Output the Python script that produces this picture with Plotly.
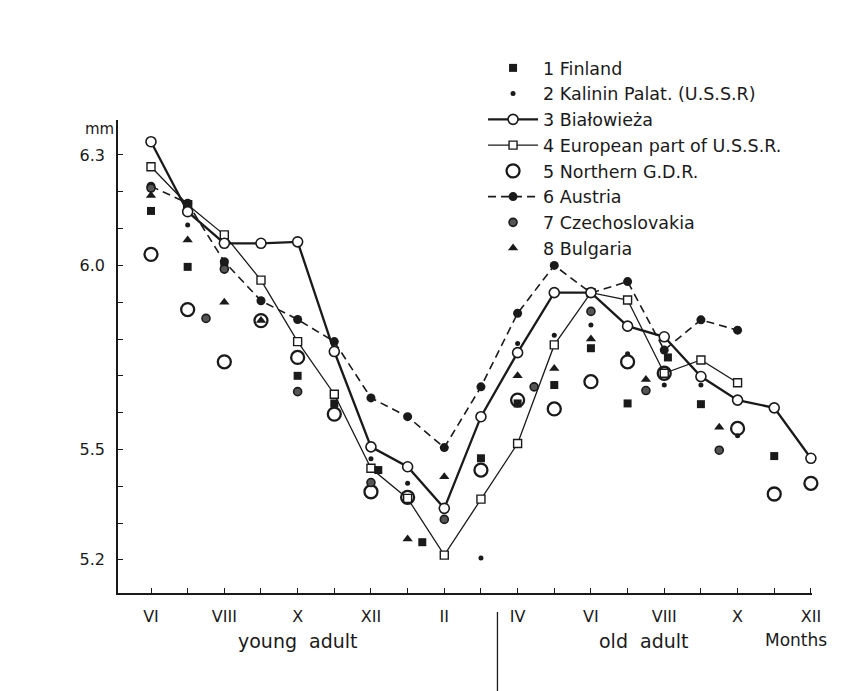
import plotly.graph_objects as go

# month positions: 0 = VI (young adult) ... 18 = XII (old adult)
tick_pos = list(range(19))
tick_text = ["VI", "", "VIII", "", "X", "", "XII", "", "II", "", "IV", "", "VI", "", "VIII", "", "X", "", "XII"]
y_ticks = [5.2, 5.3, 5.4, 5.5, 5.6, 5.7, 5.8, 5.9, 6.0, 6.1, 6.2, 6.3]
y_tick_text = ["5.2", "", "", "5.5", "", "", "", "", "6.0", "", "", "6.3"]

finland_x = [0, 1, 2, 4, 5, 6.2, 7.4, 9, 10, 11, 12, 13, 14.1, 15, 17]
finland_y = [6.148, 5.996, 6.005, 5.70, 5.625, 5.444, 5.248, 5.476, 5.625, 5.675, 5.775, 5.625, 5.75, 5.623, 5.482]

kalinin_x = [1, 6, 7, 9, 10, 11, 12, 13, 14, 15, 16]
kalinin_y = [6.11, 5.475, 5.408, 5.205, 5.788, 5.81, 5.838, 5.76, 5.675, 5.675, 5.537]

bialowieza_x = list(range(19))
bialowieza_y = [6.336, 6.146, 6.06, 6.06, 6.064, 5.766, 5.507, 5.453, 5.34, 5.589, 5.763,
                5.926, 5.926, 5.835, 5.806, 5.698, 5.634, 5.613, 5.476]

european_x = list(range(17))
european_y = [6.268, 6.165, 6.083, 5.96, 5.793, 5.65, 5.449, 5.367, 5.213, 5.365, 5.516,
              5.784, 5.926, 5.906, 5.707, 5.743, 5.681]

ngdr_x = [0, 1, 2, 3, 4, 5, 6, 7, 9, 10, 11, 12, 13, 14, 16, 17, 18]
ngdr_y = [6.03, 5.88, 5.738, 5.85, 5.75, 5.596, 5.385, 5.37, 5.444, 5.634, 5.61, 5.684,
          5.738, 5.707, 5.557, 5.379, 5.408]

austria_x = list(range(17))
austria_y = [6.215, 6.169, 6.01, 5.904, 5.853, 5.793, 5.64, 5.589, 5.505, 5.67, 5.87,
             6.0, 5.925, 5.956, 5.77, 5.852, 5.824]

czech_x = [0, 1.5, 2, 4, 6, 8, 10.45, 12, 13.5, 15.5]
czech_y = [6.21, 5.856, 5.99, 5.657, 5.41, 5.31, 5.67, 5.875, 5.66, 5.498]

bulgaria_x = [0, 1, 2, 3, 7, 8, 10, 11, 12, 13.5, 15.5]
bulgaria_y = [6.19, 6.069, 5.90, 5.85, 5.257, 5.426, 5.70, 5.72, 5.80, 5.69, 5.56]

names = ["1 Finland", "2 Kalinin Palat. (U.S.S.R)", "3 Białowieża", "4 European part of U.S.S.R.",
         "5 Northern G.D.R.", "6 Austria", "7 Czechoslovakia", "8 Bulgaria"]

INK = "#1a1a1a"
FONT = "DejaVu Sans"

fig = go.Figure()

fig.add_trace(go.Scatter(x=european_x, y=european_y, mode="lines+markers", name=names[3],
                         line=dict(color=INK, width=1.3),
                         marker=dict(symbol="square", size=8, color="white", line=dict(color=INK, width=1.4)),
                         legendrank=4, legendgroup="g4"))
fig.add_trace(go.Scatter(x=austria_x, y=austria_y, mode="lines+markers", name=names[5],
                         line=dict(color=INK, width=1.6, dash="8px,5px"),
                         marker=dict(symbol="circle", size=9, color=INK),
                         legendrank=6, legendgroup="g6"))
fig.add_trace(go.Scatter(x=bialowieza_x, y=bialowieza_y, mode="lines+markers", name=names[2],
                         line=dict(color=INK, width=2.3),
                         marker=dict(symbol="circle", size=10, color="white", line=dict(color=INK, width=1.6)),
                         legendrank=3, legendgroup="g3"))
fig.add_trace(go.Scatter(x=ngdr_x, y=ngdr_y, mode="markers", name=names[4],
                         marker=dict(symbol="circle-open", size=13, color=INK, line=dict(width=2.3)),
                         legendrank=5, legendgroup="g5"))
fig.add_trace(go.Scatter(x=finland_x, y=finland_y, mode="markers", name=names[0],
                         marker=dict(symbol="square", size=8, color=INK),
                         legendrank=1, legendgroup="g1"))
fig.add_trace(go.Scatter(x=kalinin_x, y=kalinin_y, mode="markers", name=names[1],
                         marker=dict(symbol="circle", size=5, color=INK),
                         legendrank=2, legendgroup="g2"))
fig.add_trace(go.Scatter(x=czech_x, y=czech_y, mode="markers", name=names[6],
                         marker=dict(symbol="circle", size=8, color="#555555", line=dict(color=INK, width=1.6)),
                         legendrank=7, legendgroup="g7"))
fig.add_trace(go.Scatter(x=bulgaria_x, y=bulgaria_y, mode="markers", name=names[7],
                         marker=dict(symbol="triangle-up", size=9, color=INK),
                         legendrank=8, legendgroup="g8"))

for tr in fig.data:
    tr.cliponaxis = False

fig.update_layout(
    width=860, height=691,
    margin=dict(l=118, r=48, t=120, b=98),
    paper_bgcolor="white", plot_bgcolor="white",
    font=dict(family=FONT, size=15, color=INK),
    showlegend=True,
    legend=dict(x=0.526, y=1.148, xanchor="left", yanchor="top", bgcolor="rgba(0,0,0,0)",
                font=dict(family=FONT, size=17.5, color=INK), itemwidth=50, tracegroupgap=0,
                traceorder="grouped"),
    xaxis=dict(range=[-0.9, 18.03], showgrid=False, zeroline=False, showline=True,
               linecolor=INK, linewidth=1.6, ticks="inside", ticklen=5, tickwidth=1.2,
               tickcolor=INK, tickvals=tick_pos, ticktext=tick_text, ticklabelstandoff=8,
               tickfont=dict(family=FONT, size=16, color=INK)),
    yaxis=dict(range=[5.11, 6.395], showgrid=False, zeroline=False, showline=True,
               linecolor=INK, linewidth=1.6, ticks="inside", ticklen=5, tickwidth=1.2,
               tickcolor=INK, tickvals=y_ticks, ticktext=y_tick_text, ticklabelstandoff=8,
               tickfont=dict(family=FONT, size=16, color=INK)),
)

fig.add_annotation(xref="paper", yref="paper", x=-0.026, y=1.0, xanchor="center", yanchor="middle",
                   yshift=-9, text="mm", showarrow=False, font=dict(family=FONT, size=15, color=INK))
fig.add_annotation(xref="x", yref="paper", x=4.0, y=-0.075, xanchor="center", yanchor="top",
                   text="young\u00a0\u00a0adult", showarrow=False, font=dict(family=FONT, size=19, color=INK))
fig.add_annotation(xref="x", yref="paper", x=13.45, y=-0.075, xanchor="center", yanchor="top",
                   text="old\u00a0\u00a0adult", showarrow=False, font=dict(family=FONT, size=19, color=INK))
fig.add_annotation(xref="x", yref="paper", x=17.6, y=-0.075, xanchor="center", yanchor="top",
                   text="Months", showarrow=False, font=dict(family=FONT, size=17, color=INK))
fig.add_shape(type="line", xref="x", yref="paper", x0=9.45, x1=9.45, y0=-0.04, y1=-0.21,
              line=dict(color=INK, width=1.3))

fig.write_html("out.html")
